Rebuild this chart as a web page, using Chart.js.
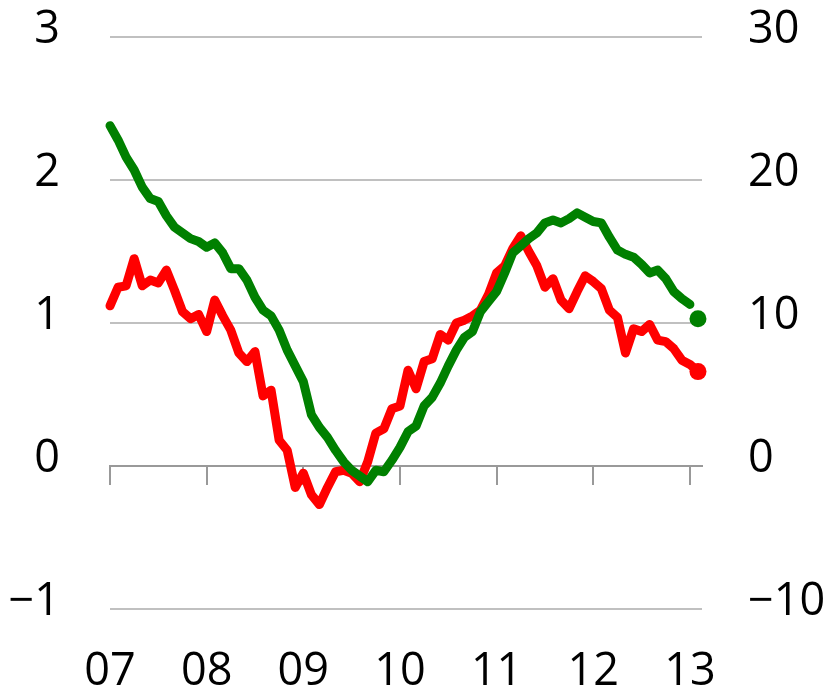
<!DOCTYPE html>
<html>
<head>
<meta charset="utf-8">
<script src="https://cdn.jsdelivr.net/npm/chart.js@4/dist/chart.umd.min.js"></script>
<style>
  html, body { margin: 0; padding: 0; background: #fff; }
  #wrap { width: 834px; height: 687px; }
</style>
</head>
<body>
<div id="wrap"><canvas id="myChart"></canvas></div>
<script>
// monthly, Jan 2007 .. Feb 2013
const yearLabels = ["07", "08", "09", "10", "11", "12", "13"];
const leftTicks = ["\u22121", "0", "1", "2", "3"];
const rightTicks = ["\u221210", "0", "10", "20", "30"];

// red series, left axis
const redValues = [
    1.12, 1.25, 1.26, 1.45, 1.26, 1.30, 1.28, 1.37, 1.23, 1.08, 1.03, 1.06,
    0.94, 1.16, 1.05, 0.95, 0.79, 0.73, 0.80, 0.49, 0.53, 0.18, 0.11, -0.15,
    -0.05, -0.20, -0.27, -0.15, -0.04, -0.03, -0.05, -0.11, 0.03, 0.23, 0.26, 0.40,
    0.42, 0.67, 0.54, 0.73, 0.75, 0.92, 0.88, 1.00, 1.02, 1.05, 1.09, 1.20,
    1.35, 1.40, 1.52, 1.61, 1.50, 1.40, 1.25, 1.31, 1.16, 1.10, 1.22, 1.33,
    1.29, 1.24, 1.09, 1.04, 0.79, 0.96, 0.94, 0.99, 0.88, 0.87, 0.82, 0.74,
    0.71, 0.66,
];

// green series, right axis
const greenValues = [
    23.8, 22.8, 21.6, 20.7, 19.5, 18.7, 18.5, 17.5, 16.7, 16.3, 15.9, 15.7,
    15.3, 15.6, 14.9, 13.8, 13.8, 13.0, 11.8, 10.9, 10.5, 9.5, 8.1, 7.0,
    5.9, 3.6, 2.7, 2.0, 1.1, 0.3, -0.3, -0.7, -1.1, -0.3, -0.4, 0.4,
    1.3, 2.4, 2.8, 4.2, 4.8, 5.8, 7.0, 8.1, 9.0, 9.4, 10.8, 11.5,
    12.2, 13.5, 14.9, 15.4, 15.9, 16.3, 17.0, 17.2, 17.0, 17.3, 17.7, 17.4,
    17.1, 17.0, 16.0, 15.1, 14.8, 14.6, 14.1, 13.5, 13.7, 13.1, 12.2, 11.7,
    11.3, 10.3,
];

const RED = "#ff0000";
const GREEN = "#008000";
const tickFont = { family: "'Open Sans'", size: 45 };

const toPoints = (arr) => arr.map((v, i) => ({ x: i, y: v }));
const lastDot = (len) => (c) => (c.dataIndex === len - 1 ? 8.5 : 0);

// fixed axis boxes, no extra room for label overhang
const fixWidth = (w) => (s) => {
    s.width = w;
    s.paddingTop = 0;
    s.paddingBottom = 0;
};

const ctx = document.getElementById("myChart").getContext("2d");
const myChart = new Chart(ctx, {
    type: "line",
    data: {
        datasets: [
            {
                label: "green",
                data: toPoints(greenValues),
                yAxisID: "y2",
                xAxisID: "x",
                borderColor: GREEN,
                backgroundColor: GREEN,
                borderWidth: 9,
                pointRadius: lastDot(greenValues.length),
                pointBorderWidth: 0,
                clip: false,
                order: 0,
                // last value stands alone as a dot
                segment: {
                    borderColor: (c) => (c.p1DataIndex === greenValues.length - 1 ? "rgba(0,0,0,0)" : GREEN),
                },
            },
            {
                label: "red",
                data: toPoints(redValues),
                yAxisID: "y",
                xAxisID: "x",
                borderColor: RED,
                backgroundColor: RED,
                borderWidth: 9,
                pointRadius: lastDot(redValues.length),
                pointBorderWidth: 0,
                clip: false,
                order: 1,
            },
        ],
    },
    options: {
        responsive: true,
        maintainAspectRatio: false,
        animation: false,
        events: [],
        layout: { padding: { top: 37, left: 0, right: 0, bottom: 0 } },
        elements: {
            line: { tension: 0, borderJoinStyle: "round", borderCapStyle: "round" },
            point: { hoverRadius: 0 },
        },
        plugins: {
            legend: { display: false },
            tooltip: { enabled: false },
        },
        scales: {
            // zero line with year tick marks
            x: {
                type: "linear",
                position: { y: 0 },
                min: 0,
                max: 73.5,
                grid: {
                    drawOnChartArea: false,
                    drawTicks: true,
                    tickLength: 18,
                    color: "#999999",
                    lineWidth: 2,
                },
                border: { display: true, color: "#999999", width: 2 },
                ticks: { display: false, stepSize: 12, includeBounds: false },
            },
            // year labels at the bottom
            x2: {
                type: "linear",
                position: "bottom",
                min: 0,
                max: 73.5,
                grid: { display: false },
                border: { display: false },
                ticks: {
                    stepSize: 12,
                    includeBounds: false,
                    autoSkip: false,
                    maxRotation: 0,
                    padding: 28,
                    color: "#000",
                    font: tickFont,
                    callback: (v) => yearLabels[v / 12],
                },
                afterFit: (s) => {
                    s.height = 78;
                    s.paddingLeft = 0;
                    s.paddingRight = 0;
                },
            },
            y: {
                position: "left",
                min: -1,
                max: 3,
                grid: { color: "#c0c0c0", lineWidth: 2, drawTicks: false },
                border: { display: false },
                ticks: {
                    stepSize: 1,
                    padding: 50,
                    labelOffset: -7,
                    color: "#000",
                    font: tickFont,
                    callback: (v) => leftTicks[v + 1],
                },
                afterFit: fixWidth(110),
            },
            y2: {
                position: "right",
                min: -10,
                max: 30,
                grid: { display: false, drawTicks: false },
                border: { display: false },
                ticks: {
                    stepSize: 10,
                    padding: 46,
                    labelOffset: -7,
                    color: "#000",
                    font: tickFont,
                    callback: (v) => rightTicks[v / 10 + 1],
                },
                afterFit: fixWidth(132),
            },
        },
    },
});
</script>
</body>
</html>
